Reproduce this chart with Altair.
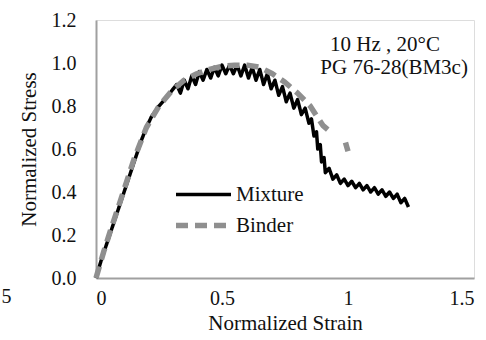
import altair as alt
import pandas as pd

mix_x = [0, 0.02, 0.04, 0.06, 0.08, 0.10, 0.12, 0.14, 0.16, 0.18, 0.20, 0.22, 0.25, 0.28, 0.30,
         0.32, 0.335, 0.35, 0.365, 0.38, 0.395, 0.41, 0.425, 0.44, 0.455, 0.47, 0.485, 0.50, 0.515,
         0.53, 0.545, 0.56, 0.575, 0.59, 0.605, 0.62, 0.635, 0.65, 0.665, 0.68, 0.695, 0.71, 0.725,
         0.74, 0.755, 0.77, 0.785, 0.80, 0.815, 0.83, 0.845, 0.855, 0.865, 0.875, 0.88, 0.89, 0.895,
         0.905, 0.91, 0.925, 0.94, 0.955, 0.97, 0.985, 1.0, 1.015, 1.03, 1.045, 1.06, 1.075, 1.09,
         1.105, 1.12, 1.135, 1.15, 1.165, 1.18, 1.195, 1.21, 1.225, 1.24]
mix_y = [0, 0.08, 0.15, 0.22, 0.29, 0.36, 0.43, 0.50, 0.57, 0.64, 0.70, 0.75, 0.80, 0.84, 0.87,
         0.90, 0.86, 0.92, 0.88, 0.94, 0.90, 0.96, 0.92, 0.97, 0.93, 0.98, 0.94, 0.99, 0.95,
         0.99, 0.95, 0.99, 0.94, 0.99, 0.93, 0.98, 0.92, 0.97, 0.90, 0.95, 0.88, 0.92, 0.85,
         0.89, 0.82, 0.86, 0.79, 0.83, 0.76, 0.79, 0.72, 0.74, 0.66, 0.68, 0.60, 0.62, 0.54,
         0.56, 0.49, 0.51, 0.46, 0.48, 0.44, 0.46, 0.43, 0.45, 0.42, 0.44, 0.41, 0.43, 0.40,
         0.42, 0.39, 0.41, 0.38, 0.40, 0.37, 0.39, 0.35, 0.37, 0.33]

bin_x = [0, 0.03, 0.06, 0.10, 0.15, 0.20, 0.25, 0.30, 0.35, 0.40, 0.45, 0.50, 0.55, 0.60,
         0.65, 0.70, 0.75, 0.80, 0.85, 0.90, 0.94]
bin_y = [0, 0.12, 0.23, 0.37, 0.55, 0.70, 0.80, 0.87, 0.92, 0.95, 0.97, 0.985, 0.99, 0.99,
         0.98, 0.95, 0.91, 0.86, 0.80, 0.71, 0.67]
bin_tail_x = [0.99, 1.0]
bin_tail_y = [0.63, 0.59]

series_names = ["Mixture", "Binder"]
notes = ["10 Hz , 20°C", "PG 76-28(BM3c)"]
note_x = [1.147, 1.183]
note_y = [1.084, 0.977]

FONT = "Liberation Serif, Times New Roman, DejaVu Serif, serif"
FS = 21

df = pd.concat([
    pd.DataFrame({"x": mix_x, "y": mix_y, "s": "Mixture", "seg": 0}),
    pd.DataFrame({"x": bin_x, "y": bin_y, "s": "Binder", "seg": 1}),
    pd.DataFrame({"x": bin_tail_x, "y": bin_tail_y, "s": "Binder", "seg": 2}),
])

xs = alt.Scale(domain=[0, 1.5], nice=False)
ys = alt.Scale(domain=[0, 1.2], nice=False)

color = alt.Color("s:N", scale=alt.Scale(domain=series_names, range=["#000000", "#8f8f8f"]),
                  legend=alt.Legend(title=None, orient="none", legendX=91, legendY=159,
                                    symbolType="M-2,0H2", symbolSize=756, symbolStrokeWidth=4,
                                    symbolFillColor="transparent",
                                    labelFont=FONT, labelFontSize=FS, labelColor="#111",
                                    labelOffset=16, rowPadding=4))
dash = alt.StrokeDash("s:N", scale=alt.Scale(domain=series_names, range=[[1, 0], [12, 7]]), legend=None)
width = alt.StrokeWidth("s:N", scale=alt.Scale(domain=series_names, range=[3.5, 5.5]), legend=None)

lines = alt.Chart(df).mark_line(strokeCap="butt", strokeJoin="round").encode(
    x=alt.X("x:Q", scale=xs, title="Normalized Strain",
            axis=alt.Axis(values=[0, 0.5, 1, 1.5], format="~g", grid=False, ticks=False,
                          domainColor="#a0a0a0", domainWidth=2, labelFont=FONT, labelFontSize=FS - 1,
                          labelColor="#111", labelPadding=10, titleFont=FONT, titleFontSize=FS,
                          titleFontWeight="normal", titleColor="#111", titlePadding=4)),
    y=alt.Y("y:Q", scale=ys, title="Normalized Stress",
            axis=alt.Axis(values=[0, 0.2, 0.4, 0.6, 0.8, 1.0, 1.2], format=".1f", grid=False,
                          ticks=False, domainColor="#a0a0a0", domainWidth=2, labelFont=FONT,
                          labelFontSize=FS - 1, labelColor="#111", labelPadding=20, titleFont=FONT,
                          titleFontSize=FS, titleFontWeight="normal", titleColor="#111",
                          titlePadding=12)),
    color=color, strokeDash=dash, strokeWidth=width, detail="seg:N",
    order=alt.Order("seg:N"),
)

ndf = pd.DataFrame({"t": notes, "x": note_x, "y": note_y})
text = alt.Chart(ndf).mark_text(font=FONT, fontSize=FS, color="#111").encode(
    x=alt.X("x:Q", scale=xs), y=alt.Y("y:Q", scale=ys), text="t:N")

stray = alt.Chart(pd.DataFrame({"t": ["5"], "x": [-0.355], "y": [-0.09]})).mark_text(
    font=FONT, fontSize=FS - 1, color="#111", clip=False).encode(
    x=alt.X("x:Q", scale=xs), y=alt.Y("y:Q", scale=ys), text="t:N")

chart = alt.layer(lines, text, stray).properties(
    width=378, height=258,
    padding={"left": 96, "top": 20, "right": 12, "bottom": 62},
    autosize=alt.AutoSizeParams(type="none"),
).configure_view(stroke=None).configure(background="white", font=FONT)

chart.save("out.html", embed_options={"renderer": "svg", "actions": False})
